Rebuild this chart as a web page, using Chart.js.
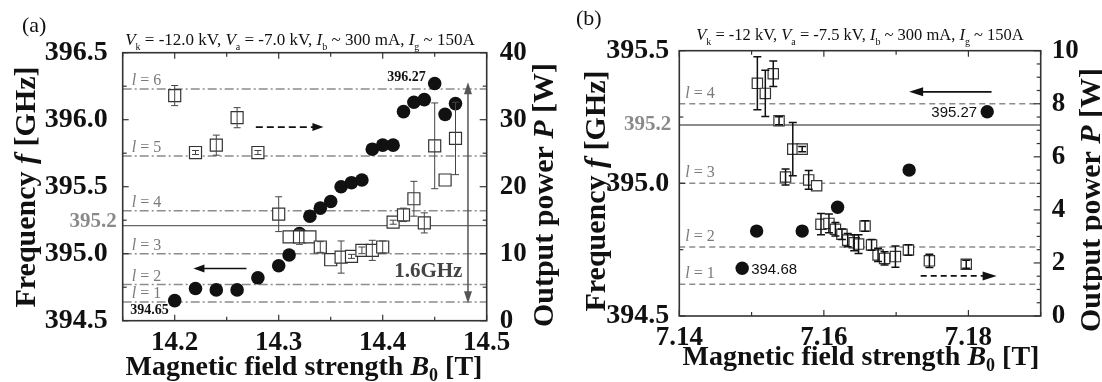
<!DOCTYPE html>
<html>
<head>
<meta charset="utf-8">
<script src="https://cdn.jsdelivr.net/npm/chart.js@4.4.1/dist/chart.umd.min.js"></script>
<style>
html, body { margin: 0; padding: 0; background: #fff; }
body { width: 1102px; height: 382px; position: relative; overflow: hidden; }
#chartA { position: absolute; left: 0; top: 0; }
#chartB { position: absolute; left: 565px; top: 0; }
</style>
</head>
<body>
<canvas id="chartA" width="570" height="382"></canvas>
<canvas id="chartB" width="537" height="382"></canvas>
<script>
// ---- panel (a): Vk = -12.0 kV, Va = -7.0 kV ----
const fieldA = [14.20, 14.22, 14.24, 14.26, 14.28, 14.30, 14.31, 14.32, 14.33, 14.34, 14.35, 14.36,
                14.37, 14.38, 14.39, 14.40, 14.41, 14.42, 14.43, 14.44, 14.45, 14.46, 14.47];
const freqA = [394.65, 394.74, 394.73, 394.73, 394.82, 394.91, 394.99, 395.15, 395.28, 395.34, 395.39, 395.50,
               395.53, 395.55, 395.78, 395.81, 395.81, 396.06, 396.13, 396.15, 396.27, 396.04, 396.12];
const powerA = [33.6, 25.1, 26.2, 30.3, 25.1, 15.9, 12.5, 12.5, 12.5, 11.0, 9.1, 9.5,
                9.6, 10.5, 10.5, 11.0, 14.7, 15.8, 18.2, 14.6, 26.1, 21.0, 27.2];
const powerErrA = [1.5, 0.3, 1.5, 1.5, 0.3, 2.6, 0, 1.1, 0, 0.8, 0, 2.4,
                   0.3, 0.5, 1.5, 0.9, 0.3, 1.0, 2.6, 1.5, 6.4, 0, 5.4];
const modeLevelsA = [396.23, 395.73, 395.32, 395.0, 394.77, 394.64];
const modeNamesA = ['6', '5', '4', '3', '2', '1'];
const refFreqA = 395.21;
const fieldTicksA = [14.2, 14.3, 14.4, 14.5];
const freqTicksA = [394.5, 395.0, 395.5, 396.0, 396.5];
const powerTicksA = [0, 10, 20, 30, 40];

// ---- panel (b): Vk = -12 kV, Va = -7.5 kV ----
const fieldCircB = [7.1487, 7.1507, 7.1570, 7.1619, 7.1718, 7.1826];
const freqB = [394.68, 394.82, 394.82, 394.91, 395.05, 395.27];
const fieldSqB = [7.1508, 7.1519, 7.1530, 7.1538, 7.1547, 7.1557, 7.1570, 7.1579, 7.1590, 7.1596, 7.1607, 7.1616,
                  7.1625, 7.1633, 7.1642, 7.1648, 7.1657, 7.1666, 7.1675, 7.1684, 7.1699, 7.1717, 7.1746, 7.1797];
const powerB = [8.77, 8.39, 9.13, 7.36, 5.24, 6.29, 6.29, 5.13, 4.91, 3.46, 3.49, 3.27,
                3.08, 2.86, 2.76, 2.71, 3.39, 2.68, 2.30, 2.17, 2.24, 2.49, 2.08, 1.95];
const powerErrB = [1.0, 0.87, 0.48, 0.15, 0.3, 1.0, 0.1, 0.35, 0, 0.4, 0.35, 0.25,
                   0.2, 0.25, 0.3, 0.35, 0.2, 0.2, 0.25, 0.25, 0.4, 0.2, 0.25, 0.15];
const modeLevelsB = [395.30, 395.0, 394.76, 394.62];
const modeNamesB = ['4', '3', '2', '1'];
const refFreqB = 395.22;
const fieldTicksB = [7.14, 7.16, 7.18];
const freqTicksB = [394.5, 395.0, 395.5];
const powerTicksB = [0, 2, 4, 6, 8, 10];

const serif = '"Liberation Serif", "Times New Roman", serif';
const sans = '"Liberation Sans", Arial, sans-serif';

// text made of pieces with their own style (italic symbols, subscripts)
function rich(ctx, segs, x, y, o) {
    ctx.save();
    ctx.translate(x, y);
    if (o.rot) ctx.rotate(o.rot);
    ctx.fillStyle = o.color || '#111';
    ctx.textBaseline = 'alphabetic';
    ctx.textAlign = 'left';
    let w = 0;
    segs.forEach(s => { ctx.font = s[1] + ' ' + s[2] + 'px ' + serif; w += ctx.measureText(s[0]).width; });
    let cx = o.align === 'left' ? 0 : -w / 2;
    segs.forEach(s => {
        ctx.font = s[1] + ' ' + s[2] + 'px ' + serif;
        ctx.fillText(s[0], cx, s[3] || 0);
        cx += ctx.measureText(s[0]).width;
    });
    ctx.restore();
}

function arrow(ctx, x1, y1, x2, y2, o) {
    const ang = Math.atan2(y2 - y1, x2 - x1);
    const hl = o.head || 11, hw = o.hw || 4;
    const c = Math.cos(ang), s = Math.sin(ang);
    ctx.save();
    ctx.strokeStyle = ctx.fillStyle = o.color || '#111';
    ctx.lineWidth = o.width || 1.7;
    ctx.setLineDash(o.dash || []);
    ctx.beginPath();
    ctx.moveTo(o.both ? x1 + c * hl * 0.8 : x1, o.both ? y1 + s * hl * 0.8 : y1);
    ctx.lineTo(x2 - c * hl * 0.8, y2 - s * hl * 0.8);
    ctx.stroke();
    ctx.setLineDash([]);
    const head = (hx, hy, cc, ss) => {
        ctx.beginPath();
        ctx.moveTo(hx, hy);
        ctx.lineTo(hx - cc * hl - ss * hw, hy - ss * hl + cc * hw);
        ctx.lineTo(hx - cc * hl + ss * hw, hy - ss * hl - cc * hw);
        ctx.closePath();
        ctx.fill();
    };
    head(x2, y2, c, s);
    if (o.both) head(x1, y1, -c, -s);
    ctx.restore();
}

function stepValues(scale, step) {
    const out = [];
    const n0 = Math.ceil(scale.min / step - 1e-6), n1 = Math.floor(scale.max / step + 1e-6);
    for (let n = n0; n <= n1; n++) out.push(n * step);
    return out;
}

const deco = {
    id: 'deco',
    beforeDatasetsDraw(chart, args, o) {
        const { ctx, chartArea: a } = chart;
        const yL = chart.scales.yL;
        ctx.save();
        o.modes.forEach((v, i) => {
            const y = yL.getPixelForValue(v);
            ctx.strokeStyle = '#8c8c8c';
            ctx.lineWidth = 1.5;
            ctx.setLineDash(o.dash);
            ctx.beginPath(); ctx.moveTo(a.left, y); ctx.lineTo(a.right, y); ctx.stroke();
            ctx.setLineDash([]);
            rich(ctx, [['l', 'italic', 16], [' = ' + o.names[i], 'normal', 16]],
                 a.left + o.lx, y - o.ly, { align: 'left', color: '#7a7a7a' });
        });
        const yr = yL.getPixelForValue(o.ref);
        ctx.strokeStyle = '#666';
        ctx.lineWidth = 1.3;
        ctx.beginPath(); ctx.moveTo(a.left, yr); ctx.lineTo(a.right, yr); ctx.stroke();
        ctx.fillStyle = '#8a8a8a';
        ctx.font = 'bold 21px ' + serif;
        ctx.textAlign = 'right';
        ctx.textBaseline = 'middle';
        ctx.fillText(o.ref.toFixed(1), a.left - o.refGap, yr + o.refDy);
        ctx.restore();
    },
    afterDatasetsDraw(chart, args, o) {
        const { ctx } = chart;
        const x = chart.scales.x, yR = chart.scales.yR;
        ctx.save();
        ctx.strokeStyle = o.errColor;
        ctx.lineWidth = o.errWidth;
        o.errX.forEach((bx, i) => {
            const e = o.err[i];
            if (!e) return;
            const px = x.getPixelForValue(bx);
            const y1 = yR.getPixelForValue(o.errY[i] - e), y2 = yR.getPixelForValue(o.errY[i] + e);
            ctx.beginPath();
            ctx.moveTo(px, y1); ctx.lineTo(px, y2);
            ctx.moveTo(px - o.cap, y1); ctx.lineTo(px + o.cap, y1);
            ctx.moveTo(px - o.cap, y2); ctx.lineTo(px + o.cap, y2);
            ctx.stroke();
        });
        ctx.restore();
    },
    afterDraw(chart, args, o) {
        const { ctx, chartArea: a } = chart;
        const { x, yL, yR } = chart.scales;
        ctx.save();
        // frame
        ctx.strokeStyle = '#333';
        ctx.lineWidth = 1.6;
        ctx.strokeRect(a.left, a.top, a.right - a.left, a.bottom - a.top);
        // inward ticks
        ctx.lineWidth = 1.2;
        const isMajor = (list, v) => list.some(t => Math.abs(t - v) < 1e-6);
        stepValues(x, o.xMinor).forEach(v => {
            const px = x.getPixelForValue(v), len = isMajor(o.xMajor, v) ? 6 : 4;
            ctx.beginPath();
            ctx.moveTo(px, a.bottom); ctx.lineTo(px, a.bottom - len);
            ctx.moveTo(px, a.top); ctx.lineTo(px, a.top + len);
            ctx.stroke();
        });
        stepValues(yL, o.yLMinor).forEach(v => {
            const py = yL.getPixelForValue(v), len = isMajor(o.yLMajor, v) ? 6 : 4;
            ctx.beginPath(); ctx.moveTo(a.left, py); ctx.lineTo(a.left + len, py); ctx.stroke();
        });
        stepValues(yR, o.yRMinor).forEach(v => {
            const py = yR.getPixelForValue(v), len = isMajor(o.yRMajor, v) ? 7 : 4;
            ctx.beginPath(); ctx.moveTo(a.right, py); ctx.lineTo(a.right - len, py); ctx.stroke();
        });
        // arrows
        o.arrows.forEach(ar => {
            const ys = chart.scales[ar.axis];
            arrow(ctx, x.getPixelForValue(ar.from[0]), ys.getPixelForValue(ar.from[1]),
                  x.getPixelForValue(ar.to[0]), ys.getPixelForValue(ar.to[1]), ar);
        });
        // value labels
        o.labels.forEach(lb => {
            const ys = chart.scales[lb.axis];
            ctx.fillStyle = lb.color || '#111';
            ctx.font = lb.font;
            ctx.textAlign = lb.align;
            ctx.textBaseline = 'middle';
            ctx.fillText(lb.text, x.getPixelForValue(lb.at[0]) + (lb.dx || 0), ys.getPixelForValue(lb.at[1]) + (lb.dy || 0));
        });
        // titles (page coordinates)
        ctx.translate(-o.offX, 0);
        o.titles.forEach(t => rich(ctx, t.segs, t.x, t.y, t));
        ctx.restore();
    }
};

function panel(id, P) {
    const tickFont = size => ({ family: serif, size: size, weight: 'bold', lineHeight: 1 });
    return new Chart(document.getElementById(id), {
        type: 'scatter',
        data: {
            datasets: [
                {
                    label: 'Output power',
                    yAxisID: 'yR',
                    data: P.sqX.map((v, i) => ({ x: v, y: P.sqY[i] })),
                    pointStyle: 'rect',
                    pointRadius: P.sqR,
                    backgroundColor: '#fff',
                    borderColor: '#333',
                    borderWidth: 1.2
                },
                {
                    label: 'Frequency',
                    yAxisID: 'yL',
                    data: P.cX.map((v, i) => ({ x: v, y: P.cY[i] })),
                    pointStyle: 'circle',
                    pointRadius: P.cR,
                    backgroundColor: '#111',
                    borderColor: '#111',
                    borderWidth: 0
                }
            ]
        },
        options: {
            responsive: false,
            animation: false,
            devicePixelRatio: 1,
            layout: { padding: { top: P.top, left: 0, right: 0, bottom: 0 } },
            plugins: { legend: { display: false }, tooltip: { enabled: false }, deco: P.deco },
            scales: {
                x: {
                    type: 'linear', position: 'bottom', min: P.xMin, max: P.xMax,
                    grid: { display: false }, border: { display: false },
                    ticks: { font: tickFont(27), color: '#111', padding: P.xPad, maxRotation: 0, autoSkip: false,
                             callback: v => v.toFixed(P.xDec) },
                    afterBuildTicks: s => { s.ticks = P.xTicks.map(v => ({ value: v })); },
                    afterFit: s => { s.height = P.xH; }
                },
                yL: {
                    type: 'linear', position: 'left', min: P.yLMin, max: P.yLMax,
                    grid: { display: false }, border: { display: false },
                    ticks: { font: tickFont(28), color: '#111', padding: P.yLPad, autoSkip: false,
                             callback: v => v.toFixed(1) },
                    afterBuildTicks: s => { s.ticks = P.yLTicks.map(v => ({ value: v })); },
                    afterFit: s => { s.width = P.yLW; }
                },
                yR: {
                    type: 'linear', position: 'right', min: P.yRMin, max: P.yRMax,
                    grid: { display: false }, border: { display: false },
                    ticks: { font: tickFont(27), color: '#111', padding: P.yRPad, autoSkip: false,
                             callback: v => String(v) },
                    afterBuildTicks: s => { s.ticks = P.yRTicks.map(v => ({ value: v })); },
                    afterFit: s => { s.width = P.yRW; }
                }
            }
        },
        plugins: [deco]
    });
}

const B = 'bold', BI = 'bold italic', N = 'normal', I = 'italic';

panel('chartA', {
    sqX: fieldA, sqY: powerA, cX: fieldA, cY: freqA, sqR: 8.5, cR: 6.8,
    top: 52.7, xH: 61.3, yLW: 122.7, yRW: 83.3,
    xMin: 14.15, xMax: 14.5, xTicks: fieldTicksA, xDec: 1, xPad: 1,
    yLMin: 394.5, yLMax: 396.5, yLTicks: freqTicksA, yLPad: 7,
    yRMin: 0, yRMax: 40, yRTicks: powerTicksA, yRPad: 5,
    deco: {
        offX: 0,
        modes: modeLevelsA, names: modeNamesA, dash: [9, 3, 2, 3], lx: 9, ly: 4,
        ref: refFreqA, refGap: 6, refDy: -4,
        errX: fieldA, errY: powerA, err: powerErrA, errColor: '#444', errWidth: 1, cap: 3.5,
        xMinor: 0.05, xMajor: fieldTicksA, yLMinor: 0.25, yLMajor: freqTicksA, yRMinor: 5, yRMajor: powerTicksA,
        arrows: [
            { axis: 'yR', from: [14.278, 28.9], to: [14.343, 28.9], dash: [7, 4], width: 1.8 },
            { axis: 'yL', from: [14.269, 394.89], to: [14.218, 394.89], width: 1.6 },
            { axis: 'yL', from: [14.482, 394.63], to: [14.482, 396.28], both: true, color: '#555', width: 1.5, head: 12 }
        ],
        labels: [
            { axis: 'yL', at: [fieldA[20], freqA[20]], dx: -9, dy: -6, text: freqA[20].toFixed(2), font: 'bold 14px ' + serif, align: 'right' },
            { axis: 'yL', at: [fieldA[0], freqA[0]], dx: -6, dy: 10, text: freqA[0].toFixed(2), font: 'bold 14px ' + serif, align: 'right' },
            { axis: 'yL', at: [14.4438, 394.866], text: '1.6GHz', font: 'bold 21px ' + serif, align: 'center', color: '#444' }
        ],
        titles: [
            { x: 22, y: 32, align: 'left', segs: [['(a)', N, 22]] },
            { x: 300, y: 45, segs: [['V', I, 17], ['k', N, 10, 5], [' = -12.0 kV, ', N, 17], ['V', I, 17], ['a', N, 10, 5],
                                     [' = -7.0 kV, ', N, 17], ['I', I, 17], ['b', N, 10, 5], [' ~ 300 mA, ', N, 17],
                                     ['I', I, 17], ['g', N, 10, 5], [' ~ 150A', N, 17]] },
            { x: 35, y: 187, rot: -Math.PI / 2, segs: [['Frequency ', B, 30], ['f', BI, 30], [' [GHz]', B, 30]] },
            { x: 553, y: 195, rot: -Math.PI / 2, segs: [['Output power ', B, 30], ['P', BI, 30], [' [W]', B, 30]] },
            { x: 304, y: 375, segs: [['Magnetic field strength ', B, 28], ['B', BI, 28], ['0', B, 18, 6], [' [T]', B, 28]] }
        ]
    }
});

panel('chartB', {
    sqX: fieldSqB, sqY: powerB, cX: fieldCircB, cY: freqB, sqR: 7.3, cR: 6.7,
    top: 50.7, xH: 66, yLW: 114.3, yRW: 61.3,
    xMin: 7.14, xMax: 7.19, xTicks: fieldTicksB, xDec: 2, xPad: 1,
    yLMin: 394.5, yLMax: 395.5, yLTicks: freqTicksB, yLPad: 2,
    yRMin: 0, yRMax: 10, yRTicks: powerTicksB, yRPad: 3,
    deco: {
        offX: 565,
        modes: modeLevelsB, names: modeNamesB, dash: [6, 4], lx: 6, ly: 6,
        ref: refFreqB, refGap: 8, refDy: 0,
        errX: fieldSqB, errY: powerB, err: powerErrB, errColor: '#111', errWidth: 1.5, cap: 4,
        xMinor: 0.01, xMajor: fieldTicksB, yLMinor: 0.25, yLMajor: freqTicksB, yRMinor: 0.5, yRMajor: powerTicksB,
        arrows: [
            { axis: 'yL', from: [7.1832, 395.345], to: [7.1718, 395.345], width: 1.8, head: 14, hw: 4.5 },
            { axis: 'yR', from: [7.1734, 1.51], to: [7.1839, 1.51], dash: [6, 4], width: 1.8, head: 14, hw: 4.5 }
        ],
        labels: [
            { axis: 'yL', at: [fieldCircB[5], freqB[5]], dx: -10, dy: 1, text: freqB[5].toFixed(2), font: '15px ' + sans, align: 'right' },
            { axis: 'yL', at: [fieldCircB[0], freqB[0]], dx: 9, dy: 2, text: freqB[0].toFixed(2), font: '15px ' + sans, align: 'left' }
        ],
        titles: [
            { x: 576, y: 25, align: 'left', segs: [['(b)', N, 22]] },
            { x: 860, y: 40, segs: [['V', I, 16.5], ['k', N, 10, 5], [' = -12 kV, ', N, 16.5], ['V', I, 16.5], ['a', N, 10, 5],
                                     [' = -7.5 kV, ', N, 16.5], ['I', I, 16.5], ['b', N, 10, 5], [' ~ 300 mA, ', N, 16.5],
                                     ['I', I, 16.5], ['g', N, 10, 5], [' ~ 150A', N, 16.5]] },
            { x: 605, y: 191, rot: -Math.PI / 2, segs: [['Frequency ', B, 30], ['f', BI, 30], [' [GHz]', B, 30]] },
            { x: 1100, y: 200, rot: -Math.PI / 2, segs: [['Output power ', B, 30], ['P', BI, 30], [' [W]', B, 30]] },
            { x: 861, y: 365, segs: [['Magnetic field strength ', B, 28], ['B', BI, 28], ['0', B, 18, 6], [' [T]', B, 28]] }
        ]
    }
});
</script>
</body>
</html>
